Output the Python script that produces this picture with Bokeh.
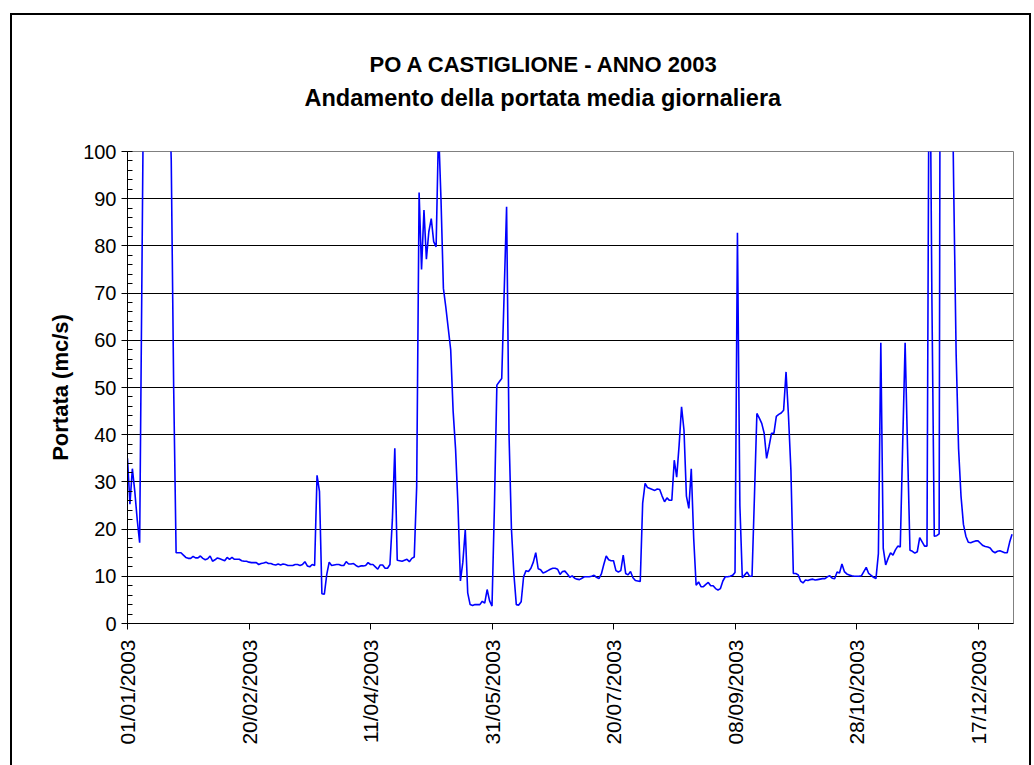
import math

from bokeh.embed import file_html
from bokeh.models import FixedTicker, InlineStyleSheet, Range1d, Title
from bokeh.plotting import figure
from bokeh.resources import INLINE

# Daily mean discharge of the Po at Castiglione, 2003 (mc/s), one list per month
flow_jan = [35, 25.3, 32.8, 28, 22, 17.1, 78, 140, 190, 230, 250, 240, 220, 200, 180,
            160, 140, 116, 98.2, 50, 15.0, 15.0, 15.0, 14.5, 14.0, 13.8, 13.8, 14.2, 13.9,
            13.9, 14.3]
flow_feb = [13.8, 13.5, 13.7, 14.3, 13.2, 13.5, 13.9, 13.7, 13.5, 13.3, 14.0, 13.6, 14.0,
            13.6, 13.6, 13.6, 13.3, 13.2, 13.2, 13.0, 12.9, 12.9, 12.9, 12.5, 12.7, 12.8,
            13.0, 12.7]
flow_mar = [12.7, 12.5, 12.4, 12.6, 12.4, 12.6, 12.5, 12.3, 12.3, 12.3, 12.5, 12.5, 12.3,
            12.5, 13.1, 12.2, 12.0, 12.5, 12.3, 31.4, 28.0, 6.3, 6.2, 10.4, 13.0, 12.3,
            12.4, 12.5, 12.5, 12.3, 12.3]
flow_apr = [13.1, 12.6, 12.6, 12.7, 12.3, 12.0, 12.2, 12.2, 12.3, 12.9, 12.5, 12.5, 12.0,
            11.5, 12.4, 12.4, 11.7, 11.7, 12.5, 22, 37.1, 13.4, 13.3, 13.2, 13.4, 13.6,
            13.1, 13.8, 14.1, 29]
flow_may = [91.3, 75, 87.6, 77.2, 83, 85.8, 80.9, 79.8, 105, 90, 71, 67, 62.5, 58, 45, 37,
            25, 9.0, 13, 19.9, 6.5, 4.0, 3.8, 4.0, 4.0, 4.0, 4.7, 4.3, 7.2, 4.8, 3.7]
flow_jun = [25, 50.5, 51.2, 51.9, 70, 88.3, 40, 20, 10.5, 4.0, 3.9, 4.6, 9.9, 11.2, 11.0,
            11.7, 13.0, 15.0, 11.6, 11.4, 10.7, 10.9, 11.2, 11.5, 11.7, 11.7, 11.5, 10.4,
            11.0, 11.1]
flow_jul = [10.5, 9.8, 10.1, 9.6, 9.4, 9.3, 9.6, 9.9, 9.9, 9.9, 10.0, 10.2, 9.8, 9.5, 10.5,
            12.5, 14.3, 13.5, 13.3, 13.3, 11.2, 10.9, 11.2, 14.5, 10.6, 10.3, 11.0, 9.7,
            9.1, 9.0, 8.9]
flow_aug = [25.5, 29.7, 28.8, 28.6, 28.4, 28.2, 28.5, 28.4, 27.0, 25.8, 26.6, 26.1, 26.1,
            34.6, 31.0, 37.8, 45.9, 41.0, 27.0, 24.4, 32.8, 18, 8.1, 8.8, 7.8, 7.8, 8.3,
            8.7, 8.0, 8.0, 7.4]
flow_sep = [7.1, 7.4, 9.0, 9.9, 9.9, 10.0, 10.2, 10.8, 82.8, 25, 9.7, 10.3, 10.9, 10.0,
            10.0, 27, 44.5, 43.5, 42.4, 40.3, 35.0, 37.5, 40.3, 40.3, 43.9, 44.3, 44.6,
            45.2, 53.3, 44]
flow_oct = [32.5, 10.6, 10.6, 10.3, 9.0, 8.6, 9.2, 9.1, 9.3, 9.4, 9.2, 9.3, 9.4, 9.5, 9.5,
            9.9, 10.1, 9.6, 9.5, 10.9, 10.7, 12.6, 11.0, 10.5, 10.3, 10.1, 10.0, 10.0,
            10.0, 10.1, 11.0]
flow_nov = [11.9, 10.6, 10.2, 9.8, 9.5, 14.8, 59.5, 15.9, 12.4, 13.8, 15.0, 14.5, 15.6,
            16.4, 16.2, 38, 59.5, 37, 15.5, 15.3, 14.9, 15.2, 18.2, 17.3, 16.4, 16.4, 140,
            70, 18.5, 18.6]
flow_dec = [19.0, 280, 320, 260, 200, 132, 92, 57, 37, 27, 21, 18.5, 17.2, 17.1, 17.3,
            17.5, 17.5, 17.0, 16.5, 16.3, 16.2, 16.0, 15.3, 15.0, 15.3, 15.4, 15.2, 15.0,
            15.0, 17.2, 18.9]

# Date axis: day of year of each labelled tick and its label
tick_days = [0, 50, 100, 150, 200, 250, 300, 350]
tick_labels = ["01/01/2003", "20/02/2003", "11/04/2003", "31/05/2003",
               "20/07/2003", "08/09/2003", "28/10/2003", "17/12/2003"]

title_main = "PO A CASTIGLIONE - ANNO 2003"
title_sub = "Andamento della portata media giornaliera"
y_title = "Portata (mc/s)"

flow = (flow_jan + flow_feb + flow_mar + flow_apr + flow_may + flow_jun +
        flow_jul + flow_aug + flow_sep + flow_oct + flow_nov + flow_dec)
days = list(range(len(flow)))

FONT = "Liberation Sans"

# thin black frame around the whole chart (open at the bottom edge of the page)
chart_border = InlineStyleSheet(css="""
:host::after {
  content: '';
  position: absolute;
  left: 10px;
  top: 13px;
  width: 1021px;
  height: 752px;
  box-sizing: border-box;
  border: 2px solid #000;
  border-bottom: none;
  pointer-events: none;
  z-index: 100;
}
""")

p = figure(width=1034, height=765, output_backend="svg", toolbar_location=None,
           x_range=Range1d(0, 364.6), y_range=Range1d(0, 100),
           min_border_left=127, min_border_right=21,
           min_border_top=151, min_border_bottom=142,
           background_fill_color="white", border_fill_color="white")
p.stylesheets.append(chart_border)

p.outline_line_color = "#808080"
p.outline_line_width = 1

# horizontal grid only, every 10 mc/s
p.xgrid.visible = False
p.ygrid.ticker = FixedTicker(ticks=list(range(10, 100, 10)))
p.ygrid.grid_line_color = "black"
p.ygrid.grid_line_width = 1

# x axis: dates written vertically
p.xaxis.ticker = FixedTicker(ticks=tick_days, minor_ticks=[])
p.xaxis.major_label_overrides = dict(zip(tick_days, tick_labels))
p.xaxis.major_label_orientation = math.pi / 2
p.xaxis.major_tick_out = 6
p.xaxis.major_tick_in = 0
p.xaxis.minor_tick_out = 0
p.xaxis.minor_tick_in = 0
p.xaxis.major_label_standoff = 10
p.xaxis.major_label_text_font_size = "21px"

# y axis: majors every 10 outside, minors every 2 inside
p.yaxis.ticker = FixedTicker(ticks=list(range(0, 101, 10)),
                             minor_ticks=list(range(0, 101, 2)))
p.yaxis.major_tick_out = 6
p.yaxis.major_tick_in = 0
p.yaxis.minor_tick_out = 0
p.yaxis.minor_tick_in = 5
p.yaxis.major_label_standoff = 5
p.yaxis.major_label_text_font_size = "20px"
p.yaxis.axis_label = y_title
p.yaxis.axis_label_standoff = 7
p.yaxis.axis_label_text_font = FONT
p.yaxis.axis_label_text_font_size = "22px"
p.yaxis.axis_label_text_font_style = "bold"
p.yaxis.axis_label_text_color = "black"

for ax in (p.xaxis, p.yaxis):
    ax.axis_line_color = "black"
    ax.axis_line_width = 1
    ax.major_tick_line_color = "black"
    ax.minor_tick_line_color = "black"
    ax.major_label_text_font = FONT
    ax.major_label_text_color = "black"

p.line(days, flow, line_color="#0000FF", line_width=1.6)

# two-line heading; the first one added sits closest to the plot,
# the negative standoff pulls the main line down onto the subtitle
p.add_layout(Title(text=title_sub, align="left", offset=177, standoff=81,
                   text_font=FONT, text_font_size="23.5px", text_font_style="bold",
                   text_color="black"), "above")
p.add_layout(Title(text=title_main, align="left", offset=242, standoff=-68,
                   text_font=FONT, text_font_size="22px", text_font_style="bold",
                   text_color="black"), "above")

open("out.html", "w").write(file_html(p, INLINE))
